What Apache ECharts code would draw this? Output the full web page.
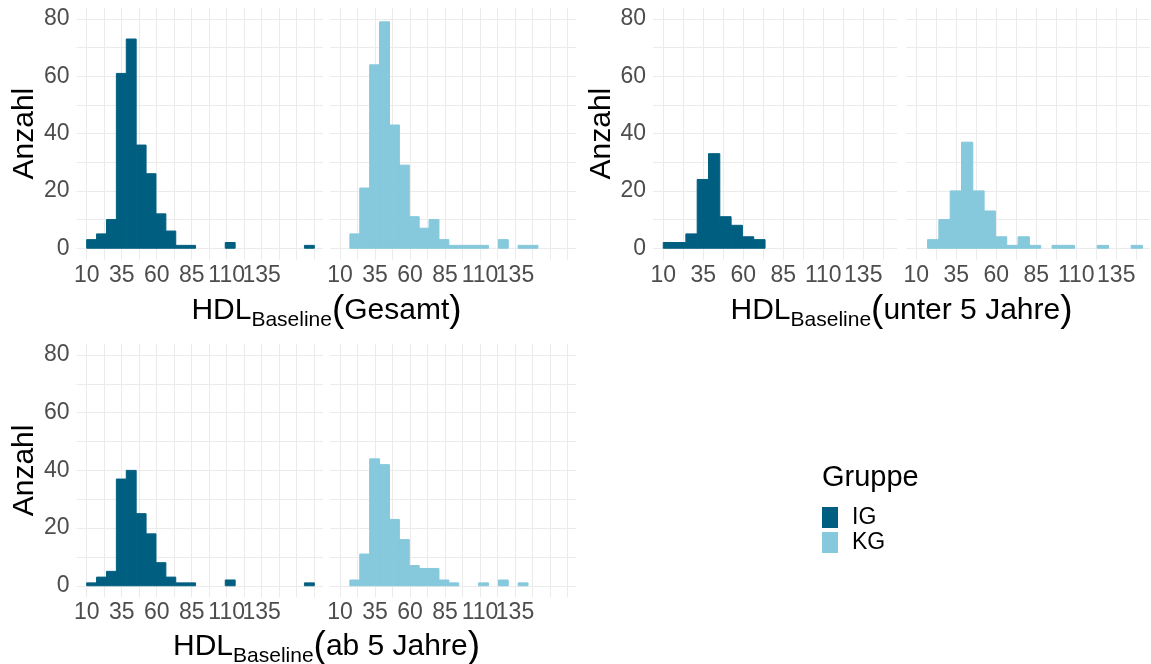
<!DOCTYPE html>
<html>
<head>
<meta charset="utf-8">
<script src="https://cdn.jsdelivr.net/npm/echarts@6/dist/echarts.min.js"></script>
<style>
  html, body { margin: 0; padding: 0; background: #fff; }
  #main { width: 1151px; height: 664px; }
</style>
</head>
<body>
<div id="main"></div>
<script>
// Histogramm HDL Baseline, Bins ab 10 mit Breite ~7.07
const binStart = 10;
const binWidth = 7.07;
const groups = ['IG', 'KG'];
const xTickLabels = [10, 35, 60, 85, 110, 135];
const yTickLabels = [0, 20, 40, 60, 80];

// Anzahl pro Bin (Index k = Bin ab binStart + k * binWidth)
const gesamtIG = [3, 5, 10, 61, 73, 36, 26, 12, 6, 1, 1, 0, 0, 0, 2, 0, 0, 0, 0, 0, 0, 0, 1];
const gesamtKG = [0, 5, 21, 64, 79, 43, 29, 11, 7, 10, 3, 1, 1, 1, 1, 0, 3, 0, 1, 1];
const unter5IG = [2, 2, 5, 24, 33, 11, 8, 4, 3];
const unter5KG = [0, 3, 10, 20, 37, 20, 13, 4, 1, 4, 1, 0, 1, 1, 0, 0, 1, 0, 0, 1];
const ab5IG = [1, 3, 5, 37, 40, 25, 18, 8, 3, 1, 1, 0, 0, 0, 2, 0, 0, 0, 0, 0, 0, 0, 1];
const ab5KG = [0, 2, 11, 44, 42, 23, 16, 7, 6, 6, 2, 1, 0, 0, 1, 0, 2, 0, 1];

const colors = { IG: '#005F80', KG: '#86C8DC' };
const FONT = '"Liberation Sans", Arial, sans-serif';

// Layout der drei Plots (je zwei Facetten)
const plots = [
  { title: 'Gesamt', data: [gesamtIG, gesamtKG], left: [76.6, 329.9], width: 246.4,
    top: 7.5, height: 252.2, xMin: -7.2, xMax: 168.8, titleX: 326.5, titleY: 311 },
  { title: 'unter 5 Jahre', data: [unter5IG, unter5KG], left: [653, 906], width: 244,
    top: 7.5, height: 252.2, xMin: -6.4, xMax: 146.1, titleX: 901.5, titleY: 311 },
  { title: 'ab 5 Jahre', data: [ab5IG, ab5KG], left: [76.6, 329.9], width: 246.4,
    top: 343.5, height: 253.8, xMin: -7.2, xMax: 168.8, titleX: 326.5, titleY: 647 },
];

// x-Achse laeuft relativ zu 10 (u = Wert - 10), damit Gitterlinien bei 10 + 12.5k liegen
const xOrigin = xTickLabels[0];

function binsToData(counts) {
  const out = [];
  counts.forEach((c, k) => {
    if (c > 0) {
      const x0 = binStart - xOrigin + k * binWidth;
      out.push([x0, x0 + binWidth, c]);
    }
  });
  return out;
}

function renderBar(params, api) {
  const p0 = api.coord([api.value(0), 0]);
  const p1 = api.coord([api.value(1), api.value(2)]);
  const col = api.visual('color');
  return {
    type: 'rect',
    shape: { x: p0[0], y: p1[1], width: p1[0] - p0[0], height: p0[1] - p1[1] },
    style: { fill: col, stroke: col, lineWidth: 1 },
  };
}

const grids = [];
const xAxes = [];
const yAxes = [];
const series = [];
const graphics = [];

plots.forEach((p) => {
  groups.forEach((g, gi) => {
    const idx = grids.length;
    grids.push({
      left: p.left[gi], top: p.top, width: p.width, height: p.height,
      outerBoundsMode: 'none', containLabel: false,
    });
    xAxes.push({
      type: 'value', gridIndex: idx, min: p.xMin, max: p.xMax,
      minInterval: 12.5, maxInterval: 12.5, splitNumber: 12,
      axisLine: { show: false }, axisTick: { show: false },
      axisLabel: {
        fontSize: 23, color: '#4D4D4D', fontFamily: FONT, margin: 4,
        showMinLabel: false, showMaxLabel: false, hideOverlap: false,
        formatter: (v) => {
          const lab = Math.round(v + xOrigin);
          return xTickLabels.includes(lab) && Math.abs(v + xOrigin - lab) < 1e-6 ? String(lab) : '';
        },
      },
      splitLine: { show: true, showMinLine: false, showMaxLine: false,
        lineStyle: { color: '#EBEBEB', width: 1 } },
    });
    yAxes.push({
      type: 'value', gridIndex: idx, min: -4, max: 84,
      minInterval: 10, maxInterval: 10, splitNumber: 8,
      name: gi === 0 ? 'Anzahl' : '', nameLocation: 'middle', nameGap: 34,
      nameTextStyle: { fontSize: 30, color: '#000', fontFamily: FONT },
      axisLine: { show: false }, axisTick: { show: false },
      axisLabel: {
        show: gi === 0, fontSize: 23, color: '#4D4D4D', fontFamily: FONT, margin: 7,
        showMinLabel: false, showMaxLabel: false,
        formatter: (v) => (yTickLabels.includes(v) ? String(v) : ''),
      },
      splitLine: { show: true, showMinLine: false, showMaxLine: false,
        lineStyle: { color: '#EBEBEB', width: 1 } },
    });
    series.push({
      type: 'custom', name: g, xAxisIndex: idx, yAxisIndex: idx,
      renderItem: renderBar, encode: { x: [0, 1], y: 2 },
      itemStyle: { color: colors[g] },
      data: binsToData(p.data[gi]),
      silent: true, animation: false,
    });
  });
  graphics.push({
    type: 'text', x: p.titleX, y: p.titleY,
    style: {
      text: '{a|HDL}{b|Baseline}{p|(}{a|' + p.title + '}{p|)}',
      align: 'center', verticalAlign: 'middle',
      rich: {
        a: { fontSize: 30, lineHeight: 40, fontFamily: FONT, fill: '#000' },
        b: { fontSize: 21, lineHeight: 28, verticalAlign: 'bottom', fontFamily: FONT, fill: '#000' },
        p: { fontSize: 37, lineHeight: 40, fontFamily: FONT, fill: '#000' },
      },
    },
  });
});

graphics.push({
  type: 'text', left: 822, top: 463,
  style: { text: 'Gruppe', fontSize: 29, fontFamily: FONT, fill: '#000' },
});

const chart = echarts.init(document.getElementById('main'));
chart.setOption({
  animation: false,
  grid: grids,
  xAxis: xAxes,
  yAxis: yAxes,
  series: series,
  legend: {
    data: groups, orient: 'vertical', left: 822, top: 506,
    icon: 'rect', itemWidth: 16, itemHeight: 21, itemGap: 2, padding: 0,
    selectedMode: false,
    textStyle: { fontSize: 23, color: '#000', fontFamily: FONT, padding: [0, 0, 0, 9] },
  },
  graphic: graphics,
});
</script>
</body>
</html>
